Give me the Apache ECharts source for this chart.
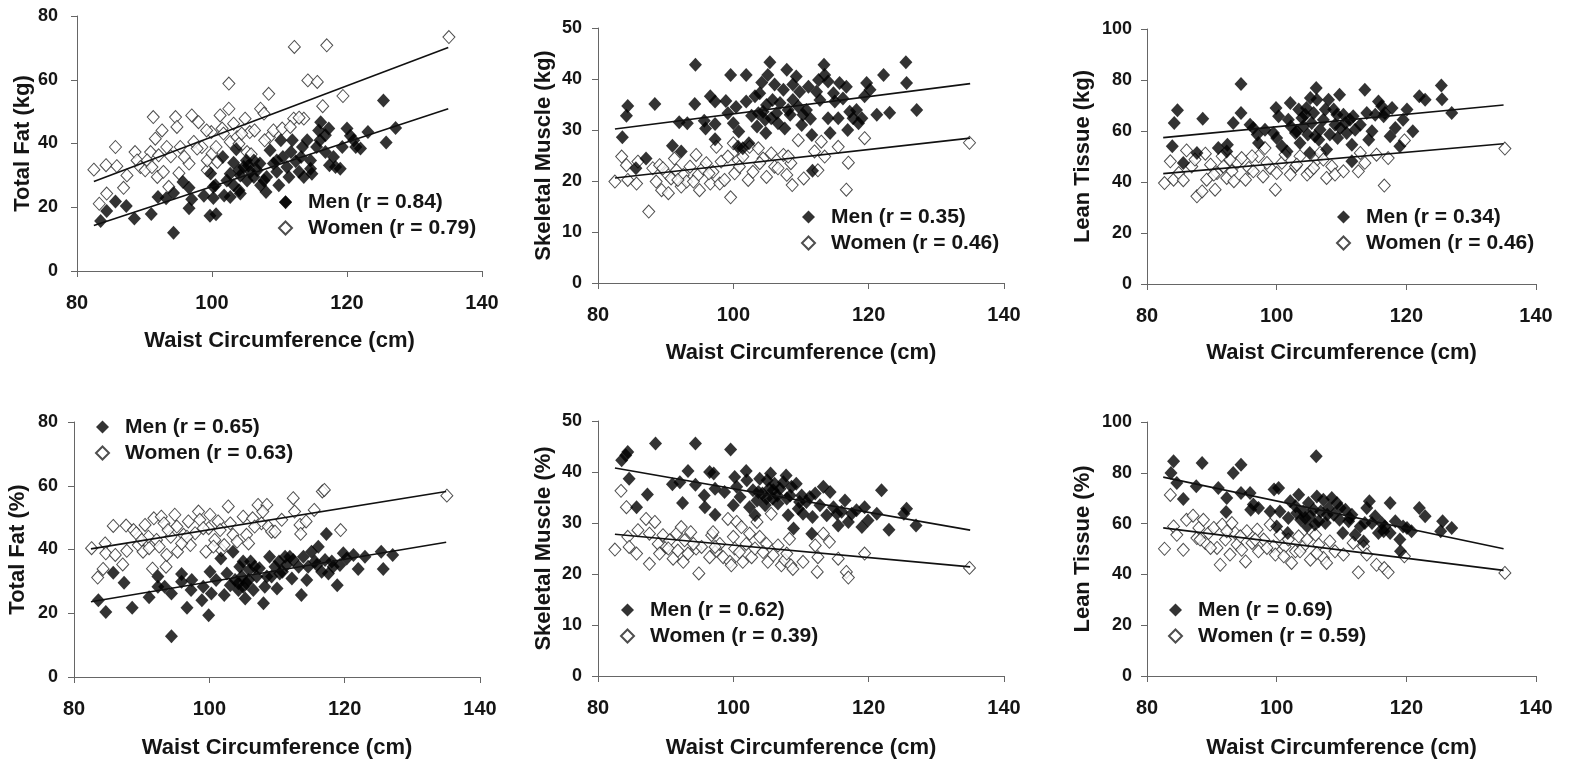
<!DOCTYPE html>
<html>
<head>
<meta charset="utf-8">
<script src="https://cdn.jsdelivr.net/npm/echarts@6/dist/echarts.min.js"></script>
<style>
  html, body {margin: 0; padding: 0; background: #fff;}
  #chart {width: 1579px; height: 761px;}
</style>
</head>
<body>
<div id="chart"></div>
<script>
// waist circumference (cm) vs body composition, men filled / women hollow

// --- Total Fat (kg)
const fatKgMen = [[83.5,15.7],[84.4,18.8],[85.7,21.8],[87.3,20.4],[88.5,16.5],[91.0,17.9],[92.0,23.2],[93.2,22.8],[94.3,12.0],[94.3,24.5],
  [95.7,27.9],[96.6,26.1],[97.0,22.5],[96.6,19.7],[98.8,23.6],[99.8,30.6],[99.7,17.3],[100.6,17.8],[100.2,22.9],[100.2,26.4],
  [101.6,35.8],[101.8,23.7],[102.2,28.4],[102.7,30.5],[103.2,34.0],[103.6,38.2],[104.0,25.3],[104.2,30.0],[104.7,32.6],[105.1,34.7],
  [105.2,28.4],[105.7,31.1],[106.2,29.5],[106.7,31.6],[107.1,33.7],[107.7,28.4],[108.0,24.8],[108.6,37.9],[109.1,33.7],[109.6,31.1],
  [109.9,26.9],[110.2,41.0],[110.5,35.8],[110.9,21.6],[111.1,32.6],[111.4,29.5],[111.9,41.0],[112.4,34.4],[112.9,31.1],[113.4,38.9],
  [113.6,29.5],[114.1,41.0],[114.6,34.7],[114.8,30.5],[115.5,38.9],[115.8,44.1],[116.1,46.7],[116.8,37.3],[117.3,44.7],[117.4,33.2],
  [118.0,35.8],[119.0,32.1],[119.3,38.9],[120.0,44.7],[121.0,41.0],[122.0,38.4],[123.1,43.6],[125.4,53.5],[125.8,40.3],[127.2,44.9],
  [102.7,23.2],[104.0,31.6],[106.2,34.7],[105.4,33.1],[108.1,29.5],[107.2,26.9],[111.7,37.3],[113.2,35.8],[114.6,32.1],[118.3,32.6],
  [120.5,42.4],[121.3,38.9],[100.5,26.9],[103.2,26.9],[104.2,24.3],[109.6,34.7],[116.0,41.0],[116.8,42.6]];
const fatKgWomen = [[82.5,31.8],[83.3,21.1],[84.3,33.2],[84.4,24.3],[85.7,38.9],[85.9,32.9],[86.9,26.1],[87.4,30.0],[88.6,37.3],[88.9,34.7],
  [89.4,32.6],[90.1,31.6],[90.9,37.3],[91.3,48.3],[91.6,41.5],[92.1,36.3],[91.9,29.5],[92.6,44.1],[92.8,31.1],[93.3,38.9],
  [93.6,26.4],[94.6,48.3],[94.8,45.2],[95.1,30.7],[95.3,38.9],[96.6,33.7],[97.0,48.8],[97.3,40.5],[98.0,46.7],[98.5,38.9],
  [99.3,31.6],[99.3,34.7],[99.9,43.6],[100.0,36.8],[100.6,38.9],[101.2,48.8],[101.5,44.7],[102.5,50.9],[102.5,58.8],[102.7,40.5],
  [103.2,46.2],[103.7,42.0],[104.0,39.9],[104.9,47.8],[105.2,37.3],[105.6,43.6],[105.8,36.6],[107.2,50.9],[107.7,49.4],[108.4,55.6],
  [108.5,42.0],[109.1,44.1],[110.4,44.7],[112.1,47.8],[112.2,70.3],[113.6,47.8],[114.2,59.8],[115.6,59.3],[116.4,51.7],[117.0,70.8],
  [119.4,54.9],[135.1,73.4],[90.4,34.7],[91.1,32.6],[93.9,36.0],[95.9,35.8],[97.8,38.4],[99.2,44.1],[100.8,34.2],[101.7,43.1],
  [104.4,43.1],[106.3,44.1],[107.8,41.0],[111.6,45.2],[112.9,48.1]];
const fatKgMenFit = [[82.5,14.3],[135,50.9]];
const fatKgWomenFit = [[82.5,28.1],[135,70.1]];
const fatKgLegend = ['Men (r = 0.84)', 'Women (r = 0.79)'];

// --- Skeletal Muscle (kg)
const smKgMen = [[83.6,28.6],[84.2,32.8],[84.4,34.7],[85.6,22.5],[87.1,24.4],[88.4,35.1],[91.0,26.9],[92.0,31.5],[92.3,25.8],[93.2,31.3],
  [94.4,42.8],[94.3,35.1],[95.7,31.8],[95.9,30.3],[96.6,36.6],[97.3,31.2],[97.3,28.2],[97.3,35.6],[98.9,35.7],[99.2,33.3],
  [99.6,40.8],[100.0,31.3],[100.4,34.5],[100.8,29.7],[100.7,26.7],[101.4,26.4],[101.9,40.8],[101.9,35.6],[102.3,27.4],[102.7,32.8],
  [103.2,36.6],[103.5,30.7],[103.9,37.2],[104.2,39.3],[104.4,33.6],[104.8,29.4],[104.9,34.9],[105.1,40.8],[105.4,43.3],[105.6,32.3],
  [106.1,38.9],[106.4,33.3],[106.9,35.3],[107.4,37.9],[107.6,30.3],[107.9,41.8],[108.4,33.0],[108.8,35.9],[109.3,40.5],[109.6,34.6],
  [109.8,37.5],[110.1,31.0],[110.3,33.0],[111.1,38.5],[111.4,32.2],[111.6,29.0],[111.7,22.0],[112.3,37.5],[112.8,35.9],[113.4,42.8],
  [113.5,40.8],[114.0,39.5],[114.0,32.3],[114.3,29.4],[115.0,35.6],[115.5,32.3],[115.7,39.2],[116.2,36.2],[116.7,38.5],[116.9,30.0],
  [117.2,33.6],[117.7,32.3],[118.5,31.3],[119.0,32.3],[119.4,36.6],[119.7,39.2],[120.2,37.9],[121.2,33.0],[122.2,40.8],[123.1,33.4],
  [125.5,43.3],[125.6,39.2],[127.1,33.9],[103.7,33.3],[104.7,32.0],[105.8,35.9],[106.6,31.3],[108.1,33.9],[108.8,38.9],[110.8,33.9],
  [112.6,39.8],[114.8,37.2],[118.2,33.9]];
const smKgWomen = [[82.5,19.9],[83.5,24.8],[84.2,23.1],[84.4,20.2],[85.7,19.5],[85.9,23.8],[87.5,14.0],[88.1,22.5],[88.6,19.9],[89.1,23.1],
  [89.4,18.2],[90.1,21.5],[90.4,17.6],[90.8,20.5],[91.3,24.4],[91.6,22.1],[92.3,18.9],[92.6,21.2],[93.1,19.9],[93.6,22.8],
  [94.5,25.1],[94.8,21.2],[95.0,18.2],[95.5,22.5],[96.0,23.5],[96.6,19.5],[97.0,21.8],[97.5,26.7],[98.0,19.5],[98.2,23.8],
  [98.7,20.2],[99.2,24.8],[99.6,16.8],[100.0,27.4],[100.2,21.5],[100.7,24.1],[101.4,24.8],[102.2,20.2],[102.4,26.7],[102.9,21.8],
  [103.7,26.4],[104.4,24.4],[104.9,20.8],[105.6,25.4],[106.1,22.8],[107.4,25.1],[107.9,21.2],[108.5,23.5],[108.7,19.2],[109.6,28.0],
  [110.4,20.5],[112.0,25.8],[112.5,22.1],[113.0,27.7],[113.5,24.8],[115.5,26.7],[116.7,18.3],[117.0,23.6],[119.4,28.4],[134.9,27.5],
  [89.6,22.5],[91.8,20.2],[94.1,19.9],[96.4,21.5],[100.9,22.8],[103.9,23.5],[106.6,22.5],[108.1,24.8]];
const smKgMenFit = [[82.5,30.2],[135,39.1]];
const smKgWomenFit = [[82.5,20.6],[135,28.4]];
const smKgLegend = ['Men (r = 0.35)', 'Women (r = 0.46)'];

// --- Lean Tissue (kg)
const ltKgMen = [[83.9,54.0],[84.2,63.1],[84.7,68.1],[85.6,47.5],[87.7,51.4],[88.6,64.8],[91.0,53.3],[92.3,52.0],[92.4,54.6],[93.3,63.1],
  [94.5,78.4],[94.5,67.1],[95.9,62.5],[96.4,61.2],[97.0,58.6],[97.2,55.3],[98.2,60.5],[99.5,59.2],[99.9,69.0],[100.0,57.3],
  [100.3,65.8],[100.8,54.0],[101.6,52.0],[101.8,64.4],[102.1,71.0],[102.2,61.8],[102.9,59.2],[103.4,68.4],[103.6,55.3],[103.9,65.1],
  [104.1,61.8],[104.6,69.0],[104.8,58.6],[105.1,51.4],[105.2,72.9],[105.4,63.1],[105.7,67.1],[106.1,76.9],[106.2,72.3],[106.5,56.6],
  [106.7,60.5],[107.2,64.4],[107.7,52.7],[108.0,72.3],[108.2,58.6],[108.8,68.4],[109.0,62.5],[109.4,57.3],[109.7,74.2],[109.8,61.2],
  [110.3,66.4],[110.8,59.2],[111.3,64.4],[111.6,54.6],[111.6,48.1],[112.1,60.5],[112.9,62.5],[113.6,76.2],[113.9,67.1],[114.2,56.6],
  [114.7,59.9],[115.2,66.4],[115.7,71.6],[116.2,69.7],[116.7,67.1],[117.5,57.9],[117.8,69.0],[118.3,61.2],[119.0,54.0],[119.5,64.4],
  [120.1,68.4],[121.0,59.9],[122.0,73.6],[122.9,72.3],[125.4,77.8],[125.5,72.5],[127.0,67.1],[103.1,59.9],[104.4,66.4],[105.9,57.9],
  [107.5,68.4],[109.3,66.4],[110.6,63.1],[111.8,65.8],[116.5,65.8]];
const ltKgWomen = [[82.7,39.6],[83.6,48.1],[84.1,40.9],[84.9,43.5],[85.6,40.7],[86.1,52.4],[86.9,46.1],[87.7,34.4],[88.5,36.3],[89.0,51.1],
  [89.2,40.9],[89.8,46.8],[90.5,37.0],[90.8,43.5],[91.6,50.1],[91.8,46.1],[92.3,41.6],[93.1,44.2],[93.4,40.3],[93.9,47.5],
  [94.6,49.4],[95.2,40.9],[95.7,45.5],[96.4,44.2],[97.2,50.1],[97.9,42.2],[98.2,53.3],[99.0,45.5],[99.8,37.0],[100.0,43.5],
  [100.8,47.5],[101.3,50.7],[102.1,42.9],[102.9,46.1],[103.6,50.1],[104.7,42.9],[105.2,44.2],[106.2,48.8],[106.7,51.4],[107.7,41.6],
  [108.5,46.1],[109.0,42.9],[110.3,44.2],[112.6,44.2],[112.9,51.4],[113.6,47.5],[115.4,50.7],[116.6,38.6],[117.2,49.4],[119.7,56.3],
  [135.2,53.1],[87.4,48.8],[90.3,42.9],[92.8,48.8],[96.2,50.1],[98.5,47.5],[103.1,46.8],[105.7,45.5],[107.2,48.8]];
const ltKgMenFit = [[82.5,57.4],[135,70.2]];
const ltKgWomenFit = [[82.5,43.3],[135,55.0]];
const ltKgLegend = ['Men (r = 0.34)', 'Women (r = 0.46)'];

// --- Total Fat (%)
const fatPctMen = [[83.6,24.1],[84.7,20.4],[85.8,32.7],[87.4,29.6],[88.6,21.7],[91.1,25.0],[92.4,31.5],[92.4,28.3],[93.4,28.3],[94.4,12.8],
  [94.4,26.2],[95.9,32.3],[95.9,29.9],[96.7,21.7],[97.3,27.3],[97.4,30.4],[98.9,24.1],[99.1,28.3],[99.9,19.4],[100.1,33.0],
  [100.3,26.2],[101.0,30.4],[101.7,37.2],[102.2,25.7],[102.6,32.5],[103.1,28.8],[103.5,39.3],[103.8,30.4],[104.3,27.3],[104.5,34.6],
  [104.8,31.5],[105.0,36.2],[105.3,24.6],[105.5,29.4],[105.9,33.6],[106.1,36.2],[106.5,27.3],[107.0,31.5],[107.4,34.1],[108.0,23.1],
  [108.2,28.3],[108.9,37.7],[109.2,31.5],[109.7,34.6],[110.0,27.8],[110.3,36.2],[110.8,33.0],[111.2,37.7],[111.4,35.1],[112.2,30.9],
  [112.4,36.7],[113.2,34.6],[113.6,25.7],[113.9,37.7],[114.4,30.4],[114.6,34.6],[115.1,39.3],[115.6,36.2],[116.1,40.9],[116.6,33.0],
  [117.1,36.7],[117.3,44.9],[117.6,32.5],[118.1,36.2],[118.9,28.8],[119.3,35.1],[119.8,38.8],[120.3,37.2],[121.3,38.3],[122.0,33.9],
  [123.0,37.7],[125.4,39.3],[125.7,33.9],[127.1,38.3],[104.3,29.4],[105.8,30.4],[105.0,28.3],[106.7,34.6],[108.5,31.5],[110.4,32.5],
  [111.9,37.7],[115.9,35.1],[118.3,34.6]];
const fatPctWomen = [[82.6,40.4],[83.5,31.2],[84.3,33.9],[84.6,41.9],[84.7,38.8],[85.8,47.4],[86.1,38.3],[87.2,35.3],[87.7,47.5],[87.8,39.6],
  [88.8,46.1],[89.2,45.1],[89.5,41.4],[90.2,39.3],[90.5,47.7],[91.0,44.0],[91.6,34.0],[91.8,49.8],[92.2,43.0],[92.6,40.9],
  [92.9,50.3],[93.3,48.2],[93.6,34.6],[93.7,38.3],[94.3,44.0],[94.9,50.9],[95.2,47.2],[95.3,39.3],[96.2,44.6],[96.9,48.8],
  [97.2,41.4],[97.9,45.1],[98.4,51.9],[98.6,49.3],[99.5,39.3],[99.9,46.7],[100.1,50.9],[100.8,43.0],[101.3,48.8],[101.8,39.8],
  [102.2,41.4],[102.8,53.5],[103.1,48.2],[103.5,44.6],[104.1,42.5],[105.0,50.3],[105.5,44.6],[105.8,41.9],[106.4,49.8],[107.2,54.0],
  [107.7,48.2],[108.5,54.0],[108.7,47.2],[109.2,45.6],[109.7,45.6],[110.7,49.3],[112.4,56.1],[112.6,51.9],[113.4,47.7],[113.5,44.9],
  [114.3,48.8],[115.5,52.4],[116.7,58.2],[117.0,58.7],[119.4,46.1],[135.1,56.9],[90.0,43.0],[91.1,40.4],[93.9,46.1],[95.9,41.9],
  [96.7,44.0],[99.1,46.7],[100.6,40.9],[101.6,46.1],[106.7,47.2],[107.9,51.9]];
const fatPctMenFit = [[82.5,23.6],[135,42.3]];
const fatPctWomenFit = [[82.5,40.2],[135,58.2]];
const fatPctLegend = ['Men (r = 0.65)', 'Women (r = 0.63)'];

// --- Skeletal Muscle (%)
const smPctMen = [[83.5,42.3],[84.1,43.3],[84.4,43.9],[84.6,38.7],[85.7,33.1],[87.3,35.6],[88.5,45.6],[91.0,37.6],[92.1,38.0],[92.5,33.9],
  [93.3,40.2],[94.4,45.6],[94.4,37.5],[95.7,35.4],[95.8,33.1],[96.5,40.0],[97.1,39.7],[97.3,36.7],[97.3,31.6],[98.7,36.1],
  [99.6,44.4],[100.0,33.5],[100.2,39.0],[100.5,37.1],[101.0,35.1],[101.9,40.2],[102.0,38.4],[102.4,33.1],[102.9,36.4],[103.2,31.5],
  [103.5,34.4],[103.9,38.7],[104.3,35.8],[104.7,33.5],[105.0,38.4],[105.3,36.7],[105.5,39.7],[105.8,34.8],[106.1,37.7],[106.5,35.4],
  [106.9,36.7],[107.4,38.0],[107.8,39.3],[107.9,34.8],[108.1,31.5],[108.6,37.1],[108.9,28.9],[109.3,37.7],[109.6,32.8],[110.1,35.4],
  [110.3,31.8],[110.8,34.1],[111.6,27.9],[111.7,31.2],[112.1,35.8],[112.8,33.5],[113.3,37.1],[113.8,31.5],[114.3,36.1],[114.8,33.1],
  [115.5,29.5],[116.0,32.2],[116.5,34.4],[117.0,30.2],[117.5,31.8],[118.2,32.5],[119.0,29.2],[119.4,33.1],[119.9,30.5],[121.2,31.8],
  [121.9,36.4],[123.0,28.7],[125.2,31.8],[125.6,32.8],[127.0,29.5],[103.7,36.1],[104.9,34.8],[105.9,36.4],[106.6,33.8],[108.4,35.4],
  [109.8,34.1],[111.3,35.1],[115.3,31.8]];
const smPctWomen = [[82.5,24.8],[83.4,36.3],[84.2,33.1],[84.4,27.3],[84.6,25.3],[85.7,24.0],[85.9,28.6],[87.1,30.8],[87.6,22.0],[87.6,27.9],
  [88.4,30.2],[88.9,25.9],[89.1,24.0],[89.6,27.6],[90.1,25.3],[90.6,26.6],[91.1,23.0],[91.6,27.9],[92.3,29.2],[92.6,22.4],
  [92.8,26.6],[93.3,24.0],[93.7,28.2],[94.5,25.0],[94.9,20.1],[95.3,25.3],[96.5,23.3],[96.8,27.6],[97.0,28.2],[97.5,24.6],
  [98.0,25.9],[98.5,23.3],[99.2,30.8],[99.5,22.4],[99.7,21.7],[100.0,27.3],[100.2,25.0],[100.5,30.2],[101.2,29.2],[101.4,22.4],
  [101.9,25.9],[102.4,27.9],[102.7,23.3],[103.2,25.0],[103.5,30.2],[103.9,27.3],[104.9,25.9],[105.1,22.4],[105.6,31.8],[105.9,23.7],
  [106.6,25.6],[107.1,21.7],[107.6,22.7],[108.3,26.9],[108.5,21.7],[108.8,21.0],[110.3,22.4],[112.1,25.6],[112.4,20.4],[112.5,23.3],
  [113.3,27.9],[114.2,26.3],[115.5,23.0],[116.7,20.4],[117.0,19.3],[119.4,24.0],[134.9,21.2],[90.4,25.0],[91.8,24.6],[94.1,25.9],
  [97.3,25.3],[100.9,24.3],[104.4,24.3],[107.9,24.0]];
const smPctMenFit = [[82.5,40.8],[135,28.6]];
const smPctWomenFit = [[82.5,27.8],[135,21.4]];
const smPctLegend = ['Men (r = 0.62)', 'Women (r = 0.39)'];

// --- Lean Tissue (%)
const ltPctMen = [[83.7,79.9],[84.1,84.5],[84.6,76.0],[85.6,69.7],[87.6,74.7],[88.5,83.9],[91.0,74.0],[92.3,70.1],[92.2,64.6],[93.3,79.9],
  [94.5,83.2],[94.5,72.0],[95.9,72.0],[96.0,65.5],[96.4,67.5],[97.2,66.1],[99.0,64.8],[99.6,73.4],[100.0,58.9],[100.3,74.0],
  [100.5,64.8],[101.7,56.3],[101.8,62.2],[102.1,68.8],[102.9,66.8],[103.4,71.4],[103.7,61.5],[104.1,64.8],[104.7,58.9],[104.9,68.1],
  [105.2,62.9],[105.7,65.5],[106.1,86.5],[106.2,70.7],[106.5,60.9],[106.8,64.8],[107.2,69.4],[107.5,60.2],[108.0,66.1],[108.5,70.1],
  [108.8,63.5],[109.3,68.1],[109.7,61.5],[110.2,56.3],[110.6,65.5],[111.1,60.9],[111.6,63.5],[112.1,55.6],[112.9,58.9],[113.4,53.0],
  [113.9,66.1],[114.3,68.8],[114.7,60.2],[115.2,62.9],[115.7,56.3],[116.2,60.2],[116.7,58.9],[117.5,68.1],[117.5,56.3],[118.3,60.9],
  [119.0,53.7],[119.1,49.1],[119.5,58.9],[120.1,58.3],[120.8,57.0],[122.0,66.1],[122.9,62.9],[125.3,57.0],[125.6,60.9],[127.0,58.3],
  [103.1,64.2],[104.4,62.2],[105.9,59.6],[107.8,63.5],[109.8,66.1],[111.3,62.2],[113.6,60.2],[116.5,57.0]];
const ltPctWomen = [[82.7,50.1],[83.6,71.3],[84.1,58.9],[84.6,55.6],[85.6,49.7],[86.1,61.5],[87.1,63.1],[87.7,54.3],[88.0,58.3],[88.7,61.5],
  [89.0,52.4],[89.5,56.3],[90.3,58.3],[90.8,50.4],[91.3,43.8],[91.6,59.6],[92.1,53.7],[92.8,47.8],[93.1,60.2],[93.6,56.3],
  [93.9,51.7],[94.6,49.7],[95.2,45.1],[95.4,57.0],[96.2,52.4],[97.0,57.6],[97.2,49.1],[98.0,53.7],[99.0,59.6],[99.5,51.0],
  [99.8,47.8],[100.5,55.6],[101.3,51.0],[101.8,53.7],[102.3,44.5],[102.9,49.1],[103.4,55.0],[104.1,51.0],[104.7,53.7],[105.2,45.8],
  [106.0,55.6],[106.5,51.7],[107.2,46.5],[107.7,44.5],[108.2,53.0],[109.0,49.1],[110.3,47.8],[111.8,52.4],[112.6,40.8],[113.4,51.0],
  [113.9,47.8],[115.4,43.8],[116.6,42.5],[117.2,40.8],[119.7,47.1],[135.2,40.6],[88.2,53.7],[89.8,50.4],[92.3,57.0],[94.4,55.0],
  [96.7,53.7],[98.5,50.4],[101.1,47.1],[103.6,49.1],[106.2,48.4]];
const ltPctMenFit = [[82.5,78.3],[135,50.1]];
const ltPctWomenFit = [[82.5,58.3],[135,41.6]];
const ltPctLegend = ['Men (r = 0.69)', 'Women (r = 0.59)'];

const waistName = 'Waist Circumference (cm)';

// panel layout: grid box, y range, names, legend spot
let panels = [
  {grid: [77, 16, 405, 255], yMax: 80, yStep: 20, yName: 'Total Fat (kg)', yGap: 42, yLab: 19, xGap: 59,
    men: fatKgMen, women: fatKgWomen, menFit: fatKgMenFit, womenFit: fatKgWomenFit, legend: fatKgLegend, lg: [278, 191]},
  {grid: [598, 28, 406, 255], yMax: 50, yStep: 10, yName: 'Skeletal Muscle (kg)', yGap: 43, yLab: 16, xGap: 59,
    men: smKgMen, women: smKgWomen, menFit: smKgMenFit, womenFit: smKgWomenFit, legend: smKgLegend, lg: [801, 206]},
  {grid: [1147, 29, 389, 255], yMax: 100, yStep: 20, yName: 'Lean Tissue (kg)', yGap: 53, yLab: 15, xGap: 58,
    men: ltKgMen, women: ltKgWomen, menFit: ltKgMenFit, womenFit: ltKgWomenFit, legend: ltKgLegend, lg: [1336, 206]},
  {grid: [74, 422, 406, 255], yMax: 80, yStep: 20, yName: 'Total Fat (%)', yGap: 45, yLab: 16, xGap: 60,
    men: fatPctMen, women: fatPctWomen, menFit: fatPctMenFit, womenFit: fatPctWomenFit, legend: fatPctLegend, lg: [95, 416]},
  {grid: [598, 421, 406, 255], yMax: 50, yStep: 10, yName: 'Skeletal Muscle (%)', yGap: 43, yLab: 16, xGap: 61,
    men: smPctMen, women: smPctWomen, menFit: smPctMenFit, womenFit: smPctWomenFit, legend: smPctLegend, lg: [620, 599]},
  {grid: [1147, 422, 389, 254], yMax: 100, yStep: 20, yName: 'Lean Tissue (%)', yGap: 53, yLab: 15, xGap: 61,
    men: ltPctMen, women: ltPctWomen, menFit: ltPctMenFit, womenFit: ltPctWomenFit, legend: ltPctLegend, lg: [1168, 599]}
];

const ink = '#151515';
const axisGrey = '#666';
const fontFam = 'Liberation Sans, Arial, sans-serif';

let grids = [], xAxes = [], yAxes = [], series = [], legends = [];

panels.forEach(function (p, i) {
  grids.push({left: p.grid[0], top: p.grid[1], width: p.grid[2], height: p.grid[3]});
  xAxes.push({
    type: 'value', gridIndex: i, min: 80, max: 140, interval: 20,
    name: waistName, nameLocation: 'middle', nameGap: p.xGap,
    nameTextStyle: {fontFamily: fontFam, fontWeight: 'bold', fontSize: 22, color: ink},
    axisLine: {show: true, onZero: false, lineStyle: {color: axisGrey, width: 1}},
    axisTick: {show: true, length: 6, lineStyle: {color: axisGrey}},
    axisLabel: {fontFamily: fontFam, fontWeight: 'bold', fontSize: 20, color: ink, margin: 22},
    splitLine: {show: false}
  });
  yAxes.push({
    type: 'value', gridIndex: i, min: 0, max: p.yMax, interval: p.yStep,
    name: p.yName, nameLocation: 'middle', nameGap: p.yGap, nameRotate: 90,
    nameTextStyle: {fontFamily: fontFam, fontWeight: 'bold', fontSize: 22, color: ink},
    axisLine: {show: true, onZero: false, lineStyle: {color: axisGrey, width: 1}},
    axisTick: {show: true, length: 6, lineStyle: {color: axisGrey}},
    axisLabel: {fontFamily: fontFam, fontWeight: 'bold', fontSize: 18, color: ink, margin: p.yLab},
    splitLine: {show: false}
  });
  series.push({
    name: p.legend[1], type: 'scatter', xAxisIndex: i, yAxisIndex: i,
    symbol: 'diamond', symbolSize: [12, 13], data: p.women,
    itemStyle: {color: '#fff', borderColor: '#222', borderWidth: 1}
  });
  series.push({
    name: p.legend[0], type: 'scatter', xAxisIndex: i, yAxisIndex: i,
    symbol: 'diamond', symbolSize: [13, 14], data: p.men,
    itemStyle: {color: '#000', borderColor: '#000', borderWidth: 0}
  });
  [p.menFit, p.womenFit].forEach(function (fit) {
    series.push({
      type: 'line', xAxisIndex: i, yAxisIndex: i, data: fit, silent: true,
      showSymbol: false, symbol: 'none', z: 5,
      lineStyle: {color: '#111', width: 1.6}
    });
  });
  legends.push({
    data: p.legend, orient: 'vertical', left: p.lg[0], top: p.lg[1],
    selectedMode: false, itemWidth: 13, itemHeight: 13, itemGap: 4, padding: 0,
    textStyle: {fontFamily: fontFam, fontWeight: 'bold', fontSize: 21, lineHeight: 22, color: ink, padding: [0, 0, 0, 11]}
  });
});

let chart = echarts.init(document.getElementById('chart'), null, {renderer: 'canvas'});
chart.setOption({
  backgroundColor: '#fff',
  animation: false,
  grid: grids,
  xAxis: xAxes,
  yAxis: yAxes,
  legend: legends,
  series: series
});
</script>
</body>
</html>
